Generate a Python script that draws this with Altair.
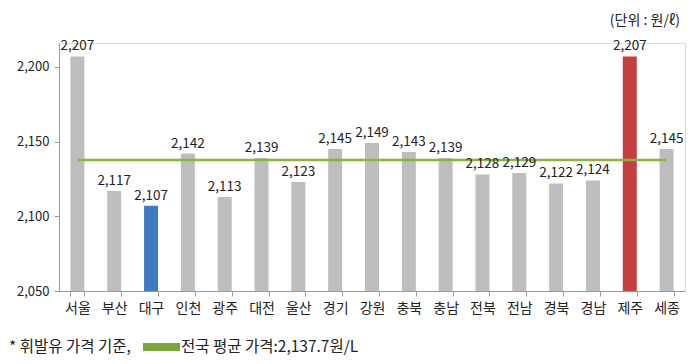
import altair as alt
import pandas as pd

regions = ["서울", "부산", "대구", "인천", "광주", "대전", "울산", "경기", "강원",
           "충북", "충남", "전북", "전남", "경북", "경남", "제주", "세종"]
prices = [2207, 2117, 2107, 2142, 2113, 2139, 2123, 2145, 2149,
          2143, 2139, 2128, 2129, 2122, 2124, 2207, 2145]
highlight = ["gray", "gray", "blue", "gray", "gray", "gray", "gray", "gray", "gray",
             "gray", "gray", "gray", "gray", "gray", "gray", "red", "gray"]
national_avg = 2137.7
y_ticks = [2050, 2100, 2150, 2200]

FONT = "Noto Sans CJK KR"

df = pd.DataFrame({"region": regions, "price": prices, "hl": highlight,
                   "base": [2050] * len(regions)})
df["label"] = df["price"].map(lambda v: f"{v:,}")
avg_df = pd.DataFrame({"region": [regions[0], regions[-1]], "avg": [national_avg] * 2})

x = alt.X("region:N", sort=regions, title=None,
          scale=alt.Scale(paddingInner=0.62, paddingOuter=0.31),
          axis=alt.Axis(labelAngle=0, labelFont=FONT, labelFontSize=14, labelColor="#222",
                        domainColor="#9a9a9a", tickColor="#9a9a9a", tickBand="extent",
                        tickSize=5, labelPadding=5))
yscale = alt.Scale(domain=[2050, 2216], nice=False, zero=False)

bars = alt.Chart(df).mark_bar().encode(
    x=x,
    y=alt.Y("price:Q", scale=yscale, title=None,
            axis=alt.Axis(values=y_ticks, format=",.0f", grid=False, labelFont=FONT,
                          labelFontSize=13, labelColor="#222", domainColor="#9a9a9a",
                          tickColor="#9a9a9a", tickSize=5, labelPadding=5)),
    y2="base:Q",
    color=alt.Color("hl:N", scale=alt.Scale(domain=["gray", "blue", "red"],
                                            range=["#BEBEBE", "#3E7CC2", "#C4403F"]),
                    legend=None),
)

labels = alt.Chart(df).mark_text(dy=-10, font=FONT, fontSize=13.5, color="#222").encode(
    x=alt.X("region:N", sort=regions),
    y=alt.Y("price:Q", scale=yscale),
    text="label:N",
)

avg_line = alt.Chart(avg_df).mark_line(color="#8DB33F", strokeWidth=2.5).encode(
    x=alt.X("region:N", sort=regions),
    y=alt.Y("avg:Q", scale=yscale),
)

unit = alt.Chart(pd.DataFrame({"t": ["(단위 : 원/ℓ)"]})).mark_text(
    align="right", baseline="middle", font=FONT, fontSize=14, color="#222"
).encode(x=alt.value(621), y=alt.value(-22), text="t:N")

note = alt.Chart(pd.DataFrame({"t": ["* 휘발유 가격 기준,"]})).mark_text(
    align="left", baseline="middle", font=FONT, fontSize=15.5, color="#222"
).encode(x=alt.value(-50), y=alt.value(304), text="t:N")

swatch = alt.Chart(pd.DataFrame({"a": [1]})).mark_rect(color="#7AA63A").encode(
    x=alt.value(84), x2=alt.value(121), y=alt.value(300), y2=alt.value(308)
)

note2 = alt.Chart(pd.DataFrame({"t": ["전국 평균 가격:2,137.7원/L"]})).mark_text(
    align="left", baseline="middle", font=FONT, fontSize=15.5, color="#222"
).encode(x=alt.value(122), y=alt.value(304), text="t:N")

chart = alt.layer(bars, avg_line, labels, unit, note, swatch, note2).properties(
    width=626, height=248,
    autosize=alt.AutoSizeParams(type="none"),
    padding={"left": 51, "top": 35, "right": 5, "bottom": 65},
).configure_view(stroke=None).configure(background="white")

chart.save("out.html", embed_options={"renderer": "svg", "actions": False})
